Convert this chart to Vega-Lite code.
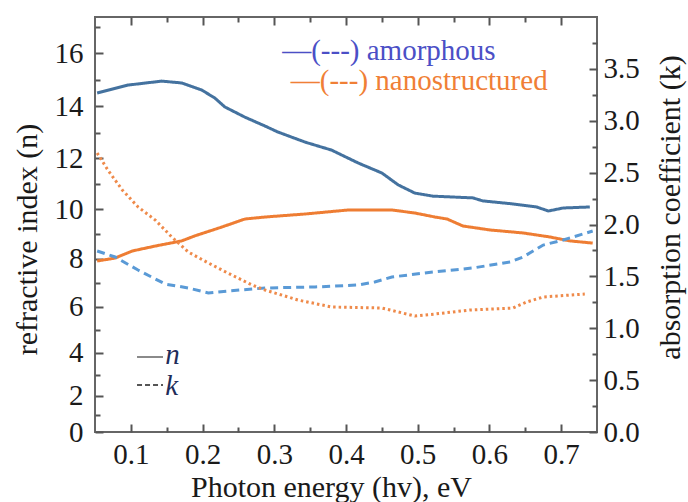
{
  "$schema": "https://vega.github.io/schema/vega-lite/v6.json",
  "width": 502,
  "height": 415,
  "autosize": {"type": "none"},
  "padding": {"left": 95, "top": 17, "right": 91, "bottom": 70},
  "background": "white",
  "config": {
    "view": {"stroke": "#666", "strokeWidth": 2},
    "font": "Liberation Serif",
    "axis": {
      "labelFont": "Liberation Serif",
      "titleFont": "Liberation Serif",
      "labelFontSize": 29,
      "titleFontSize": 30,
      "titleFontWeight": "normal",
      "labelColor": "#1a1a1a",
      "titleColor": "#1a1a1a",
      "domain": false,
      "grid": false,
      "tickColor": "#555",
      "tickWidth": 2
    }
  },
  "datasets": {
    "curves": [
      {"s": "an", "q": "n", "x": 0.053, "v": 14.51},
      {"s": "an", "q": "n", "x": 0.096, "v": 14.81},
      {"s": "an", "q": "n", "x": 0.143, "v": 14.96},
      {"s": "an", "q": "n", "x": 0.171, "v": 14.89},
      {"s": "an", "q": "n", "x": 0.199, "v": 14.62},
      {"s": "an", "q": "n", "x": 0.217, "v": 14.32},
      {"s": "an", "q": "n", "x": 0.231, "v": 13.98},
      {"s": "an", "q": "n", "x": 0.259, "v": 13.59},
      {"s": "an", "q": "n", "x": 0.287, "v": 13.25},
      {"s": "an", "q": "n", "x": 0.305, "v": 13.02},
      {"s": "an", "q": "n", "x": 0.343, "v": 12.63},
      {"s": "an", "q": "n", "x": 0.380, "v": 12.32},
      {"s": "an", "q": "n", "x": 0.417, "v": 11.82},
      {"s": "an", "q": "n", "x": 0.450, "v": 11.43},
      {"s": "an", "q": "n", "x": 0.473, "v": 10.96},
      {"s": "an", "q": "n", "x": 0.496, "v": 10.64},
      {"s": "an", "q": "n", "x": 0.521, "v": 10.52},
      {"s": "an", "q": "n", "x": 0.577, "v": 10.45},
      {"s": "an", "q": "n", "x": 0.591, "v": 10.33},
      {"s": "an", "q": "n", "x": 0.633, "v": 10.21},
      {"s": "an", "q": "n", "x": 0.666, "v": 10.09},
      {"s": "an", "q": "n", "x": 0.682, "v": 9.93},
      {"s": "an", "q": "n", "x": 0.703, "v": 10.05},
      {"s": "an", "q": "n", "x": 0.740, "v": 10.09},
      {"s": "nn", "q": "n", "x": 0.053, "v": 7.91},
      {"s": "nn", "q": "n", "x": 0.078, "v": 8.03},
      {"s": "nn", "q": "n", "x": 0.102, "v": 8.32},
      {"s": "nn", "q": "n", "x": 0.134, "v": 8.52},
      {"s": "nn", "q": "n", "x": 0.171, "v": 8.73},
      {"s": "nn", "q": "n", "x": 0.189, "v": 8.93},
      {"s": "nn", "q": "n", "x": 0.227, "v": 9.29},
      {"s": "nn", "q": "n", "x": 0.259, "v": 9.61},
      {"s": "nn", "q": "n", "x": 0.287, "v": 9.69},
      {"s": "nn", "q": "n", "x": 0.343, "v": 9.81},
      {"s": "nn", "q": "n", "x": 0.403, "v": 9.97},
      {"s": "nn", "q": "n", "x": 0.464, "v": 9.97},
      {"s": "nn", "q": "n", "x": 0.496, "v": 9.85},
      {"s": "nn", "q": "n", "x": 0.524, "v": 9.69},
      {"s": "nn", "q": "n", "x": 0.541, "v": 9.61},
      {"s": "nn", "q": "n", "x": 0.563, "v": 9.33},
      {"s": "nn", "q": "n", "x": 0.601, "v": 9.17},
      {"s": "nn", "q": "n", "x": 0.647, "v": 9.05},
      {"s": "nn", "q": "n", "x": 0.684, "v": 8.89},
      {"s": "nn", "q": "n", "x": 0.712, "v": 8.73},
      {"s": "nn", "q": "n", "x": 0.744, "v": 8.64},
      {"s": "ak", "q": "k", "x": 0.053, "v": 1.745},
      {"s": "ak", "q": "k", "x": 0.078, "v": 1.687},
      {"s": "ak", "q": "k", "x": 0.110, "v": 1.561},
      {"s": "ak", "q": "k", "x": 0.148, "v": 1.426},
      {"s": "ak", "q": "k", "x": 0.180, "v": 1.388},
      {"s": "ak", "q": "k", "x": 0.208, "v": 1.340},
      {"s": "ak", "q": "k", "x": 0.235, "v": 1.359},
      {"s": "ak", "q": "k", "x": 0.287, "v": 1.388},
      {"s": "ak", "q": "k", "x": 0.357, "v": 1.398},
      {"s": "ak", "q": "k", "x": 0.417, "v": 1.417},
      {"s": "ak", "q": "k", "x": 0.440, "v": 1.446},
      {"s": "ak", "q": "k", "x": 0.464, "v": 1.494},
      {"s": "ak", "q": "k", "x": 0.521, "v": 1.542},
      {"s": "ak", "q": "k", "x": 0.577, "v": 1.581},
      {"s": "ak", "q": "k", "x": 0.629, "v": 1.639},
      {"s": "ak", "q": "k", "x": 0.647, "v": 1.687},
      {"s": "ak", "q": "k", "x": 0.675, "v": 1.802},
      {"s": "ak", "q": "k", "x": 0.703, "v": 1.851},
      {"s": "ak", "q": "k", "x": 0.744, "v": 1.937},
      {"s": "nk", "q": "k", "x": 0.053, "v": 2.689},
      {"s": "nk", "q": "k", "x": 0.068, "v": 2.525},
      {"s": "nk", "q": "k", "x": 0.088, "v": 2.333},
      {"s": "nk", "q": "k", "x": 0.110, "v": 2.169},
      {"s": "nk", "q": "k", "x": 0.134, "v": 2.043},
      {"s": "nk", "q": "k", "x": 0.157, "v": 1.880},
      {"s": "nk", "q": "k", "x": 0.180, "v": 1.735},
      {"s": "nk", "q": "k", "x": 0.208, "v": 1.629},
      {"s": "nk", "q": "k", "x": 0.235, "v": 1.533},
      {"s": "nk", "q": "k", "x": 0.269, "v": 1.417},
      {"s": "nk", "q": "k", "x": 0.287, "v": 1.369},
      {"s": "nk", "q": "k", "x": 0.333, "v": 1.272},
      {"s": "nk", "q": "k", "x": 0.380, "v": 1.205},
      {"s": "nk", "q": "k", "x": 0.450, "v": 1.195},
      {"s": "nk", "q": "k", "x": 0.496, "v": 1.118},
      {"s": "nk", "q": "k", "x": 0.524, "v": 1.137},
      {"s": "nk", "q": "k", "x": 0.573, "v": 1.176},
      {"s": "nk", "q": "k", "x": 0.633, "v": 1.195},
      {"s": "nk", "q": "k", "x": 0.652, "v": 1.253},
      {"s": "nk", "q": "k", "x": 0.675, "v": 1.301},
      {"s": "nk", "q": "k", "x": 0.733, "v": 1.330}
    ],
    "legend": [
      {"id": "am", "x": 0.311, "v": 16.08, "t": "—(---) amorphous"},
      {"id": "na", "x": 0.323, "v": 14.96, "t": "—(---) nanostructured"}
    ],
    "mini": [
      {"g": "n", "x": 0.1086, "v": 3.81},
      {"g": "n", "x": 0.1448, "v": 3.81},
      {"g": "k", "x": 0.1086, "v": 2.52},
      {"g": "k", "x": 0.1448, "v": 2.52}
    ],
    "minilabels": [
      {"x": 0.148, "v": 3.9, "t": "n"},
      {"x": 0.148, "v": 2.45, "t": "k"}
    ]
  },
  "layer": [
    {
      "data": {"name": "curves"},
      "transform": [{"filter": "datum.q == 'n'"}],
      "mark": {"type": "line", "strokeWidth": 3},
      "encoding": {
        "x": {
          "field": "x", "type": "quantitative",
          "scale": {"domain": [0.05, 0.75], "nice": false, "zero": false},
          "axis": {
            "orient": "bottom",
            "values": [0.1, 0.15, 0.2, 0.25, 0.3, 0.35, 0.4, 0.45, 0.5, 0.55, 0.6, 0.65, 0.7],
            "format": ".1f",
            "labelExpr": "round(datum.value*100) % 10 == 0 ? datum.label : ''",
            "tickSize": {"condition": {"test": "round(datum.value*100) % 10 == 0", "value": -8}, "value": -5},
            "labelPadding": 16,
            "title": "Photon energy (hv), eV",
            "titleX": 236,
            "titleY": 55,
            "titleBaseline": "middle",
            "titleAlign": "center"
          }
        },
        "y": {
          "field": "v", "type": "quantitative",
          "scale": {"type": "pow", "exponent": 1.128, "domain": [0, 17.36], "nice": false},
          "axis": {
            "orient": "left",
            "values": [0, 1, 2, 3, 4, 5, 6, 7, 8, 9, 10, 11, 12, 13, 14, 15, 16, 17],
            "labelExpr": "datum.value % 2 == 0 ? datum.label : ''",
            "tickSize": {"condition": {"test": "datum.value % 2 == 0", "value": -8}, "value": -5},
            "labelPadding": 20,
            "title": "refractive index (n)",
            "titleAngle": 270,
            "titleX": -68,
            "titleY": 222,
            "titleBaseline": "middle",
            "titleAlign": "center"
          }
        },
        "color": {
          "field": "s", "type": "nominal",
          "scale": {"domain": ["an", "nn", "ak", "nk"], "range": ["#44729f", "#ee7d33", "#5a9ad6", "#ef8a4a"]},
          "legend": null
        },
        "strokeDash": {
          "field": "s", "type": "nominal",
          "scale": {"domain": ["an", "nn", "ak", "nk"], "range": [[1, 0], [1, 0], [8, 5], [2.5, 3]]},
          "legend": null
        }
      }
    },
    {
      "data": {"name": "curves"},
      "transform": [{"filter": "datum.q == 'n'"}],
      "mark": {"type": "line", "opacity": 0},
      "encoding": {
        "x": {
          "field": "x", "type": "quantitative",
          "scale": {"domain": [0.05, 0.75], "nice": false, "zero": false},
          "axis": {
            "orient": "top",
            "values": [0.1, 0.15, 0.2, 0.25, 0.3, 0.35, 0.4, 0.45, 0.5, 0.55, 0.6, 0.65, 0.7],
            "labels": false,
            "title": null,
            "tickSize": {"condition": {"test": "round(datum.value*100) % 10 == 0", "value": -8}, "value": -5}
          }
        },
        "y": {"field": "v", "type": "quantitative", "scale": {"type": "pow", "exponent": 1.128, "domain": [0, 17.36], "nice": false}, "axis": null},
        "detail": {"field": "s"}
      }
    },
    {
      "data": {"name": "legend"},
      "transform": [{"filter": "datum.id == 'am'"}],
      "mark": {"type": "text", "align": "left", "baseline": "middle", "font": "Liberation Serif", "fontSize": 29, "color": "#4b4fc6"},
      "encoding": {
        "x": {"field": "x", "type": "quantitative", "scale": {"domain": [0.05, 0.75], "nice": false, "zero": false}, "axis": null},
        "y": {"field": "v", "type": "quantitative", "scale": {"type": "pow", "exponent": 1.128, "domain": [0, 17.36], "nice": false}, "axis": null},
        "text": {"field": "t"}
      }
    },
    {
      "data": {"name": "legend"},
      "transform": [{"filter": "datum.id == 'na'"}],
      "mark": {"type": "text", "align": "left", "baseline": "middle", "font": "Liberation Serif", "fontSize": 29, "color": "#f07f36"},
      "encoding": {
        "x": {"field": "x", "type": "quantitative", "scale": {"domain": [0.05, 0.75], "nice": false, "zero": false}, "axis": null},
        "y": {"field": "v", "type": "quantitative", "scale": {"type": "pow", "exponent": 1.128, "domain": [0, 17.36], "nice": false}, "axis": null},
        "text": {"field": "t"}
      }
    },
    {
      "data": {"name": "mini"},
      "transform": [{"filter": "datum.g == 'n'"}],
      "mark": {"type": "line", "color": "#8a8a8a", "strokeWidth": 2},
      "encoding": {
        "x": {"field": "x", "type": "quantitative", "scale": {"domain": [0.05, 0.75], "nice": false, "zero": false}, "axis": null},
        "y": {"field": "v", "type": "quantitative", "scale": {"type": "pow", "exponent": 1.128, "domain": [0, 17.36], "nice": false}, "axis": null}
      }
    },
    {
      "data": {"name": "mini"},
      "transform": [{"filter": "datum.g == 'k'"}],
      "mark": {"type": "line", "color": "#555555", "strokeWidth": 2, "strokeDash": [5, 3]},
      "encoding": {
        "x": {"field": "x", "type": "quantitative", "scale": {"domain": [0.05, 0.75], "nice": false, "zero": false}, "axis": null},
        "y": {"field": "v", "type": "quantitative", "scale": {"type": "pow", "exponent": 1.128, "domain": [0, 17.36], "nice": false}, "axis": null}
      }
    },
    {
      "data": {"name": "minilabels"},
      "mark": {"type": "text", "align": "left", "baseline": "middle", "font": "Liberation Serif", "fontSize": 29, "fontStyle": "italic", "color": "#1f2d5a"},
      "encoding": {
        "x": {"field": "x", "type": "quantitative", "scale": {"domain": [0.05, 0.75], "nice": false, "zero": false}, "axis": null},
        "y": {"field": "v", "type": "quantitative", "scale": {"type": "pow", "exponent": 1.128, "domain": [0, 17.36], "nice": false}, "axis": null},
        "text": {"field": "t"}
      }
    },
    {
      "data": {"name": "curves"},
      "transform": [{"filter": "datum.q == 'k'"}],
      "mark": {"type": "line", "strokeWidth": 3},
      "encoding": {
        "x": {"field": "x", "type": "quantitative", "scale": {"domain": [0.05, 0.75], "nice": false, "zero": false}, "axis": null},
        "y": {
          "field": "v", "type": "quantitative",
          "scale": {"domain": [0, 4], "nice": false},
          "axis": {
            "orient": "right",
            "values": [0, 0.25, 0.5, 0.75, 1, 1.25, 1.5, 1.75, 2, 2.25, 2.5, 2.75, 3, 3.25, 3.5, 3.75],
            "format": ".1f",
            "labelExpr": "round(datum.value*100) % 50 == 0 ? datum.label : ''",
            "tickSize": {"condition": {"test": "round(datum.value*100) % 50 == 0", "value": -8}, "value": -5},
            "labelPadding": 14,
            "title": "absorption coefficient (k)",
            "titleAngle": 270,
            "titleX": 73,
            "titleY": 190,
            "titleBaseline": "middle",
            "titleAlign": "center"
          }
        },
        "color": {
          "field": "s", "type": "nominal",
          "scale": {"domain": ["an", "nn", "ak", "nk"], "range": ["#44729f", "#ee7d33", "#5a9ad6", "#ef8a4a"]},
          "legend": null
        },
        "strokeDash": {
          "field": "s", "type": "nominal",
          "scale": {"domain": ["an", "nn", "ak", "nk"], "range": [[1, 0], [1, 0], [8, 5], [2.5, 3]]},
          "legend": null
        }
      }
    }
  ],
  "resolve": {"scale": {"y": "independent"}}
}
